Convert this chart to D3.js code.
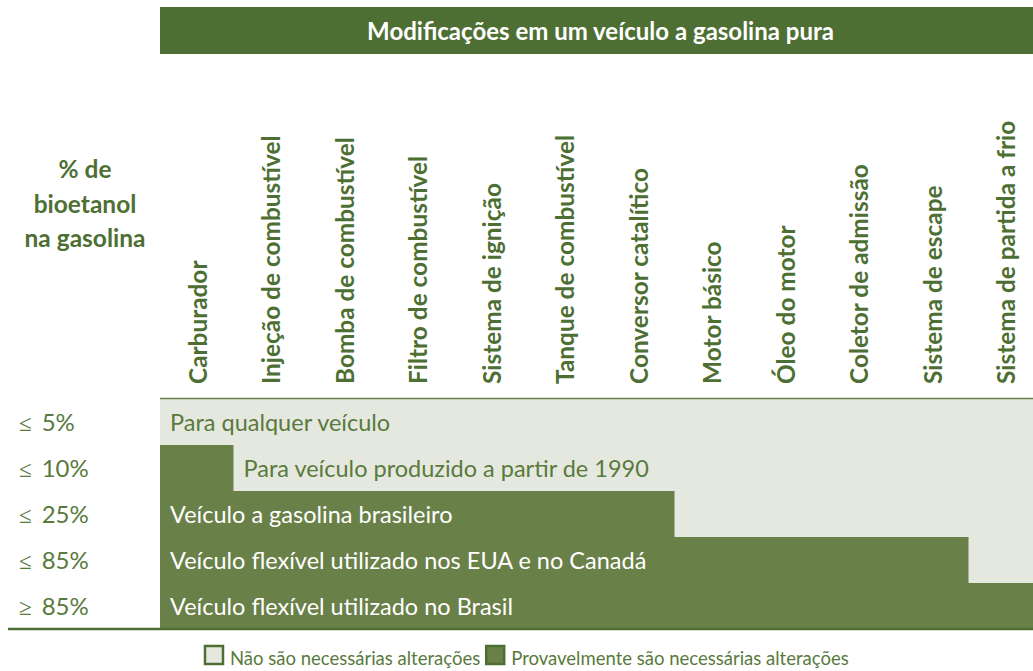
<!DOCTYPE html>
<meta charset="utf-8">
<style>
  body { margin: 0; background: #fff; }
  text { font-family: Lato, "Open Sans", sans-serif; }
</style>
<body>
<svg width="1033" height="671"></svg>
<script src="https://d3js.org/d3.v7.min.js"></script>
<script>

// modifications (columns)
var parts = ["Carburador", "Injeção de combustível", "Bomba de combustível", "Filtro de combustível",
  "Sistema de ignição", "Tanque de combustível", "Conversor catalítico", "Motor básico",
  "Óleo do motor", "Coletor de admissão", "Sistema de escape", "Sistema de partida a frio"];

// blend rows
var blends = ["≤ 5%", "≤ 10%", "≤ 25%", "≤ 85%", "≥ 85%"];
var changed = [0, 1, 7, 11, 12];   // how many parts need changes, from the left
var vehicles = ["Para qualquer veículo", "Para veículo produzido a partir de 1990",
  "Veículo a gasolina brasileiro", "Veículo flexível utilizado nos EUA e no Canadá",
  "Veículo flexível utilizado no Brasil"];

var legendLabels = ["Não são necessárias alterações", "Provavelmente são necessárias alterações"];

var darkGreen = "#4e6f33", cellGreen = "#6a8049", light = "#e5e8df", txt = "#597a3d";

var svg = d3.select("svg"),
    width = +svg.attr("width");

var x = d3.scaleBand().domain(parts).range([160, 160 + 12 * 73.5]);
var y = d3.scaleBand().domain(blends).range([399, 629]);

// header bar
svg.append("rect")
  .attr("x", 160).attr("y", 7).attr("width", width - 160).attr("height", 47)
  .attr("fill", darkGreen);
svg.append("text")
  .attr("x", (160 + width) / 2 + 4).attr("y", 40)
  .attr("text-anchor", "middle")
  .attr("fill", "#fff").attr("font-weight", "bold").attr("font-size", 24)
  .text("Modificações em um veículo a gasolina pura");

// left title
svg.append("text")
  .attr("text-anchor", "middle").attr("fill", darkGreen)
  .attr("font-weight", "bold").attr("font-size", 24.5)
  .selectAll("tspan")
  .data(["% de", "bioetanol", "na gasolina"])
  .enter().append("tspan")
  .attr("x", 85).attr("y", (d, i) => 178 + i * 34.5)
  .text(d => d);

// column labels
svg.append("g").selectAll("text")
  .data(parts)
  .enter().append("text")
  .attr("transform", d => "translate(" + (x(d) + x.bandwidth() / 2 + 10) + ",384) rotate(-90)")
  .attr("fill", darkGreen).attr("font-weight", "bold").attr("font-size", 24.4)
  .text(d => d);

// cells
var cells = [];
blends.forEach((b, i) => parts.forEach((p, j) => cells.push({ b: b, p: p, on: j < changed[i] })));

svg.append("g").selectAll("rect")
  .data(cells)
  .enter().append("rect")
  .attr("x", d => x(d.p)).attr("y", d => y(d.b))
  .attr("width", x.bandwidth() + 0.5).attr("height", y.bandwidth() + 0.5)
  .attr("fill", d => d.on ? cellGreen : light);

// top border
svg.append("line")
  .attr("x1", 160).attr("x2", width).attr("y1", 398.5).attr("y2", 398.5)
  .attr("stroke", cellGreen).attr("stroke-width", 1.5);

// row labels (bigger comparison sign)
var rl = svg.append("g").selectAll("text")
  .data(blends)
  .enter().append("text")
  .attr("x", 19).attr("y", d => y(d) + y.bandwidth() / 2 + 9)
  .attr("fill", txt).attr("font-size", 24);
rl.append("tspan")
  .attr("font-family", "DejaVu Sans").attr("font-size", 23).attr("font-weight", 300)
  .text(d => d.slice(0, 1));
rl.append("tspan")
  .attr("dx", 10)
  .text(d => d.slice(2));

// row descriptions
svg.append("g").selectAll("text")
  .data(vehicles)
  .enter().append("text")
  .attr("x", (d, i) => (changed[i] >= 1 && changed[i] < 2 ? x(parts[changed[i]]) : x(parts[0])) + 10)
  .attr("y", (d, i) => y(blends[i]) + y.bandwidth() / 2 + 9)
  .attr("fill", (d, i) => changed[i] >= 2 ? "#fff" : txt)
  .attr("font-size", 23.5)
  .text(d => d);

// bottom rule
svg.append("line")
  .attr("x1", 8).attr("x2", width).attr("y1", 629).attr("y2", 629)
  .attr("stroke", darkGreen).attr("stroke-width", 2.5);

// legend
var lg = svg.append("g");
var lx = 205;
legendLabels.forEach((l, i) => {
  lg.append("rect")
    .attr("x", lx).attr("y", 646).attr("width", 18).attr("height", 18)
    .attr("fill", i ? cellGreen : light)
    .attr("stroke", darkGreen).attr("stroke-width", 2.5);
  var t = lg.append("text")
    .attr("x", lx + 25).attr("y", 665)
    .attr("fill", txt).attr("font-size", 18.5)
    .text(l);
  lx += 25 + t.node().getComputedTextLength() + 6;
});

</script>
</body>
